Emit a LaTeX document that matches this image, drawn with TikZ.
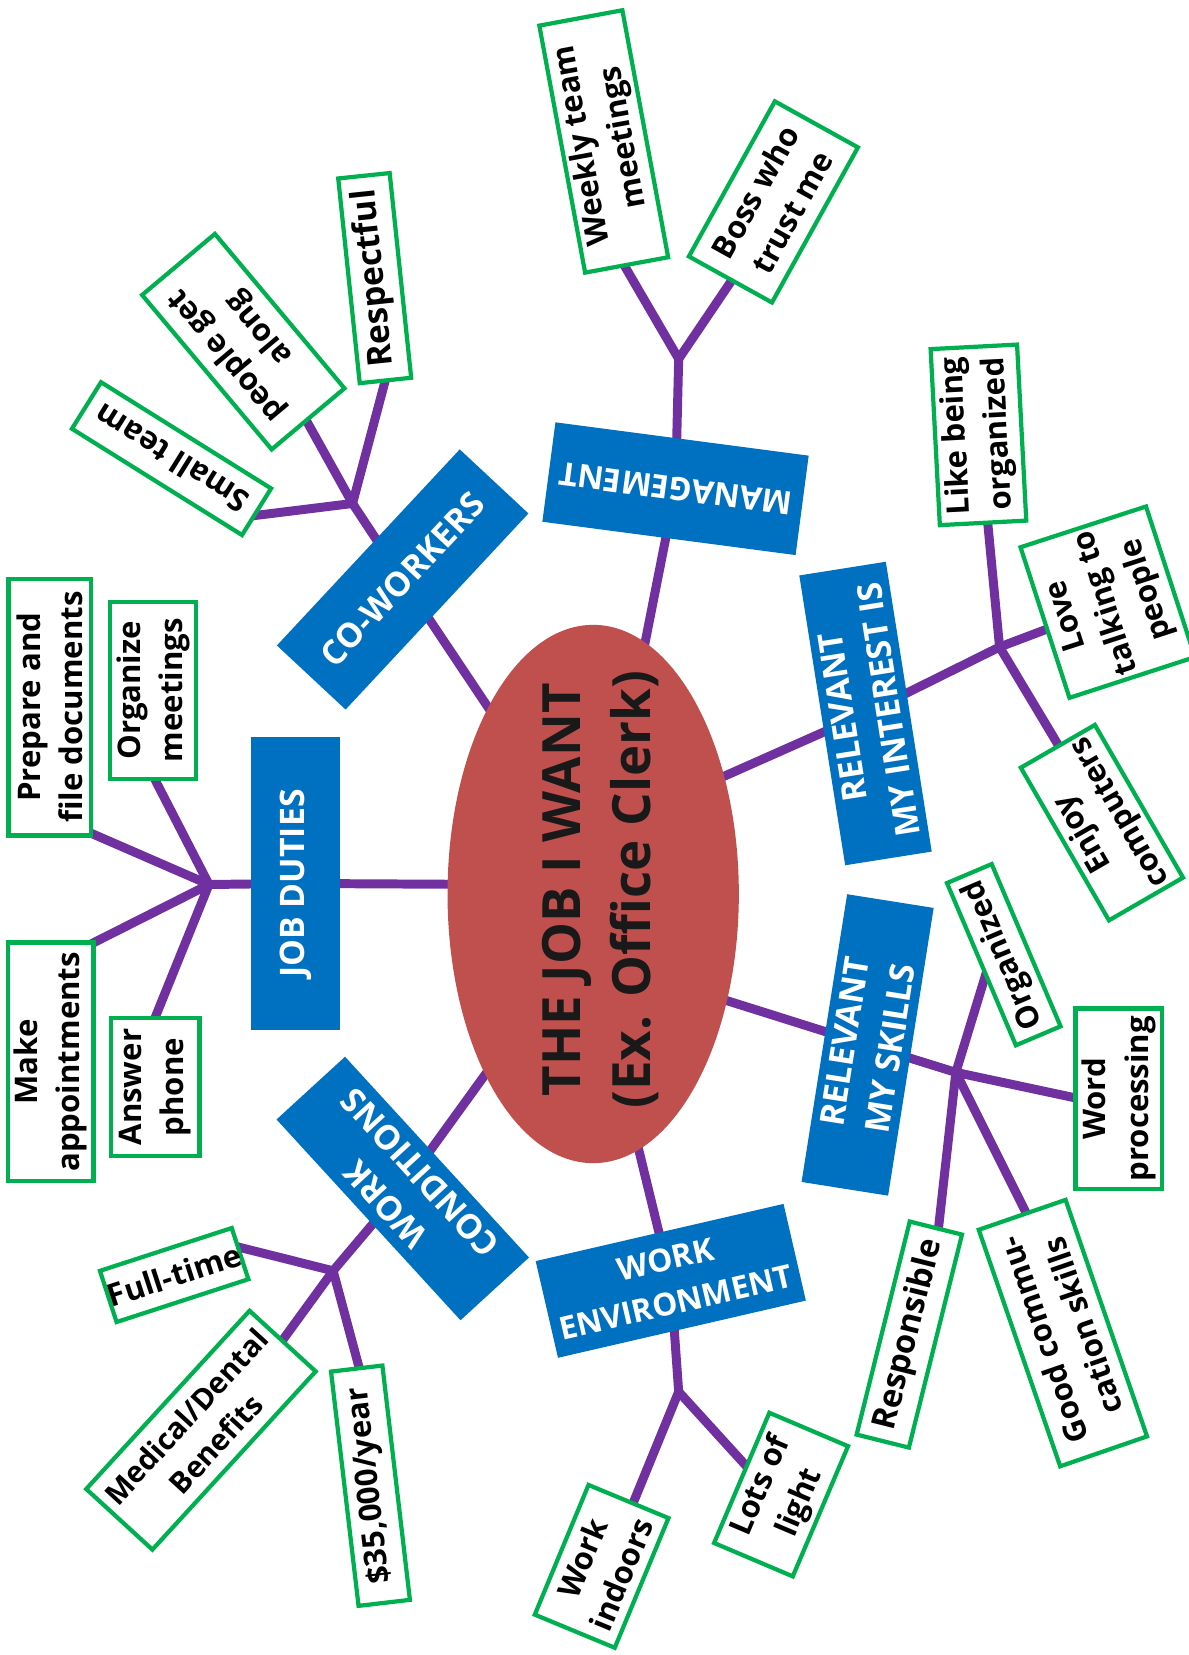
\documentclass[tikz,border=0pt]{standalone}
\usepackage{fontspec}
\setmainfont{Open Sans}
\usetikzlibrary{shapes.geometric}
\definecolor{cpurple}{HTML}{7030A0}
\definecolor{cblue}{HTML}{0070C0}
\definecolor{cgreen}{HTML}{00B050}
\definecolor{cred}{HTML}{C0504D}
\pgfdeclarelayer{bg}
\pgfsetlayers{bg,main}
\begin{document}
\begin{tikzpicture}[x=1pt,y=-1pt,
  gbox/.style={draw=cgreen, line width=4pt, fill=white, inner sep=0pt, align=center,
    font=\fontsize{29.5}{40}\selectfont\bfseries, text=black},
  bbox/.style={fill=cblue, inner sep=0pt, align=center,
    font=\fontsize{32}{44}\selectfont\bfseries, text=white},
  conn/.style={draw=cpurple, line width=8.5pt, line cap=round},
  leaf/.style={conn, shorten >=-6pt},
]
\useasboundingbox (0,0) rectangle (1126,1568);

% centre
\node[ellipse, fill=cred, minimum width=276pt, minimum height=510pt, inner sep=0pt] (core) at (562,847) {};
\node[rotate=90, align=center, font=\fontsize{50}{67}\selectfont\bfseries, text=black!90] (coretext) at (569,843) {THE JOB I WANT\\(Ex. Office Clerk)};

% blue category boxes
\node[bbox, minimum width=278pt, minimum height=84pt, rotate=90] (duties) at (280,837) {JOB DUTIES};
\node[bbox, minimum width=254pt, minimum height=89pt, rotate=47] (cowork) at (381.5,549) {CO-WORKERS};
\node[bbox, minimum width=242pt, minimum height=95pt, rotate=172.5, font=\fontsize{30.5}{44}\selectfont\bfseries] (manage) at (640,463) {MANAGEMENT};
\node[bbox, minimum width=278pt, minimum height=83pt, rotate=99] (interest) at (820,676) {RELEVANT\\MY INTEREST IS};
\node[bbox, minimum width=276pt, minimum height=83pt, rotate=81] (skills) at (822,990) {RELEVANT\\MY SKILLS};
\node[bbox, minimum width=241pt, minimum height=94pt, rotate=13, font=\fontsize{30}{42}\selectfont\bfseries] (environ) at (635.5,1213.5) {WORK\\ENVIRONMENT};
\node[bbox, minimum width=258pt, minimum height=88pt, rotate=132.5] (conditions) at (381.6,1126) {WORK\\CONDITIONS};

% green leaf boxes
\node[gbox, minimum width=243pt, minimum height=78pt, rotate=90] (prep) at (47,670) {Prepare and\\file documents};
\node[gbox, minimum width=168pt, minimum height=82pt, rotate=90] (organize) at (145,654) {Organize\\meetings};
\node[gbox, minimum width=226pt, minimum height=81pt, rotate=90] (appoint) at (48,1006) {Make\\appointments};
\node[gbox, minimum width=131pt, minimum height=84pt, rotate=90] (phone) at (147,1030) {Answer\\phone};
\node[gbox, minimum width=190pt, minimum height=52pt, rotate=148] (small) at (162.5,434.5) {Small team};
\node[gbox, minimum width=191pt, minimum height=90pt, rotate=130] (along) at (230.5,323.7) {people get\\along};
\node[gbox, minimum width=195pt, minimum height=49pt, rotate=96, font=\fontsize{32}{40}\selectfont\bfseries] (respect) at (355,263.5) {Respectful};
\node[gbox, minimum width=238pt, minimum height=80pt, rotate=100.5] (weekly) at (572,134) {Weekly team\\meetings};
\node[gbox, minimum width=168pt, minimum height=90pt, rotate=61] (boss) at (732.75,191.3) {Boss who\\trust me};
\node[gbox, minimum width=167pt, minimum height=82pt, rotate=93] (like) at (927,412) {Like being\\organized};
\node[gbox, minimum width=150pt, minimum height=125pt, rotate=108] (love) at (1049.5,570.5) {Love\\talking to\\people};
\node[gbox, minimum width=167pt, minimum height=81pt, rotate=120] (enjoy) at (1044,779.4) {Enjoy\\computers};
\node[gbox, minimum width=167pt, minimum height=46pt, rotate=113] (organized) at (951,904.5) {Organized};
\node[gbox, minimum width=171pt, minimum height=82pt, rotate=90] (word) at (1060,1041) {Word\\processing};
\node[gbox, minimum width=208pt, minimum height=51pt, rotate=76, font=\fontsize{31}{40}\selectfont\bfseries] (respons) at (861.5,1264.4) {Responsible};
\node[gbox, minimum width=237pt, minimum height=87pt, rotate=109] (good) at (1007,1263) {Good commu-\\cation skills};
\node[gbox, minimum width=133pt, minimum height=82pt, rotate=67.5] (indoors) at (570,1484) {Work\\indoors};
\node[gbox, minimum width=134pt, minimum height=81pt, rotate=67] (light) at (740,1416) {Lots of\\light};
\node[gbox, minimum width=130pt, minimum height=51pt, rotate=18] (fulltime) at (165,1208) {Full-time};
\node[gbox, minimum width=229pt, minimum height=85pt, rotate=47.5, font=\fontsize{28}{38}\selectfont\bfseries] (medical) at (190.4,1355) {Medical/Dental\\Benefits};
\node[gbox, minimum width=223.5pt, minimum height=49pt, rotate=96.7] (salary) at (351,1407.6) {\$35,000/year};

% junctions and connector ends
\coordinate (e1) at (470,838);   \coordinate (j1) at (198,838);
\coordinate (t-prep) at (83,788); \coordinate (t-organize) at (147,739);
\coordinate (t-appoint) at (87,894); \coordinate (t-phone) at (147,964);
\coordinate (e2) at (475,689);   \coordinate (j2) at (334,477);
\coordinate (t-small) at (245,488); \coordinate (t-along) at (290,398); \coordinate (t-respect) at (365,360.5);
\coordinate (e3) at (605,640);   \coordinate (j3) at (643,340);
\coordinate (t-weekly) at (590,249); \coordinate (t-boss) at (692,267.5);
\coordinate (e4) at (660,747);   \coordinate (j4) at (947,613);
\coordinate (t-like) at (936,497.6); \coordinate (t-love) at (992,596); \coordinate (t-enjoy) at (1002,704.8);
\coordinate (e5) at (660,939);   \coordinate (j5) at (905.6,1016);
\coordinate (t-organized) at (934.6,921); \coordinate (t-word) at (1018,1040);
\coordinate (t-respons) at (889,1165); \coordinate (t-good) at (970.6,1146);
\coordinate (e6) at (598,1060);  \coordinate (j6) at (643,1318.6);
\coordinate (t-indoors) at (601.5,1420); \coordinate (t-light) at (705,1386.7);
\coordinate (e7) at (480,990);   \coordinate (j7) at (315.6,1204);
\coordinate (t-fulltime) at (226.8,1181.7); \coordinate (t-medical) at (266.8,1271); \coordinate (t-salary) at (341,1298.6);

\begin{pgfonlayer}{bg}
\fill[white] (0,0) rectangle (1126,1568);
% spokes
\draw[conn] (e1) -- (duties.center) -- (j1);
\draw[conn] (e2) -- (cowork.center) -- (j2);
\draw[conn] (e3) -- (manage.center) -- (j3);
\draw[conn] (e4) -- (interest.center) -- (j4);
\draw[conn] (e5) -- (skills.center) -- (j5);
\draw[conn] (e6) -- (environ.center) -- (j6);
\draw[conn] (e7) -- (conditions.center) -- (j7);
% leaves
\foreach \t in {prep,organize,appoint,phone} \draw[leaf] (j1) -- (t-\t);
\foreach \t in {small,along,respect} \draw[leaf] (j2) -- (t-\t);
\foreach \t in {weekly,boss} \draw[leaf] (j3) -- (t-\t);
\foreach \t in {like,love,enjoy} \draw[leaf] (j4) -- (t-\t);
\foreach \t in {organized,word,respons,good} \draw[leaf] (j5) -- (t-\t);
\foreach \t in {indoors,light} \draw[leaf] (j6) -- (t-\t);
\foreach \t in {fulltime,medical,salary} \draw[leaf] (j7) -- (t-\t);
\end{pgfonlayer}
\end{tikzpicture}
\end{document}
